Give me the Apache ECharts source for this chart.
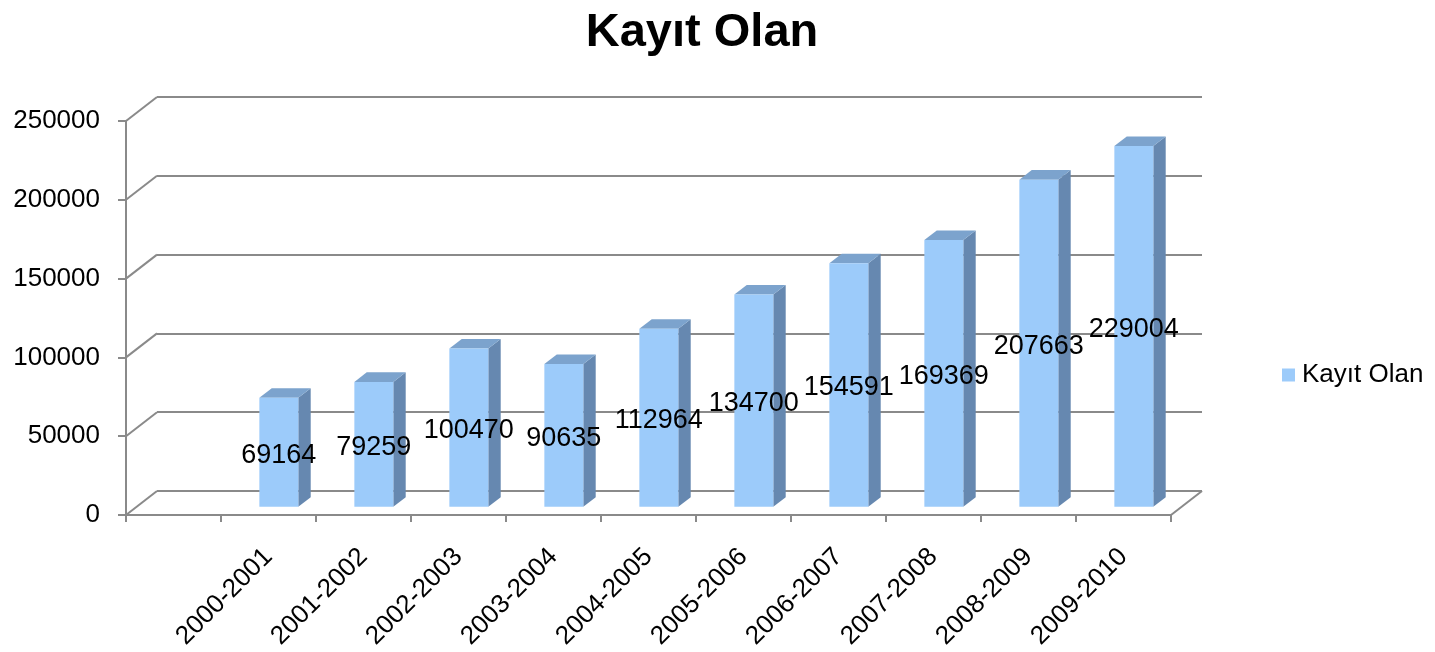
<!DOCTYPE html>
<html><head><meta charset="utf-8">
<script src="https://cdn.jsdelivr.net/npm/echarts@6/dist/echarts.min.js"></script>
<style>html,body{margin:0;padding:0;background:#fff}#c{width:1435px;height:652px}</style>
</head><body><div id="c"></div>
<script>
// ---- data ----
const chartTitle = 'Kayıt Olan';
const seriesName = 'Kayıt Olan';
const categories = ['2000-2001','2001-2002','2002-2003','2003-2004','2004-2005','2005-2006','2006-2007','2007-2008','2008-2009','2009-2010'];
const values = [69164, 79259, 100470, 90635, 112964, 134700, 154591, 169369, 207663, 229004];
const yTicks = [0, 50000, 100000, 150000, 200000, 250000];
const yMin = 0, yMax = 250000, yInterval = 50000;

// ---- style / layout ----
const FONT = "'Liberation Sans', Arial, sans-serif";
const GRID_COLOR = '#8a8a8a';
const FRONT = '#9ccbfa', SIDE = '#6688b0', TOP = '#7ca3cd';
const PLOT = { left: 126, top: 121, width: 1045, height: 394 };
const SLOTS = 11;                 // front axis slots (first slot empty, as in the original)
const DEPTH = [31, -24];          // oblique depth vector of floor/walls
const FRONT_DEPTH = 1 / 3, BAR_DEPTH = 0.4;
const slotW = PLOT.width / SLOTS;

function renderBar(params, api) {
  const i = api.value(0), v = api.value(1);
  const base = api.coord([i, 0]), top = api.coord([i, v]);
  const w = api.size([1, 0])[0] * 0.41;
  const fx = base[0] + DEPTH[0] * FRONT_DEPTH - w / 2;
  const fy0 = base[1] + DEPTH[1] * FRONT_DEPTH;
  const fy1 = top[1] + DEPTH[1] * FRONT_DEPTH;
  const dx = DEPTH[0] * BAR_DEPTH, dy = DEPTH[1] * BAR_DEPTH;
  return { type: 'group', children: [
    { type: 'polygon', shape: { points: [[fx + w, fy1], [fx + w + dx, fy1 + dy], [fx + w + dx, fy0 + dy], [fx + w, fy0]] }, style: { fill: SIDE } },
    { type: 'polygon', shape: { points: [[fx, fy1], [fx + dx, fy1 + dy], [fx + w + dx, fy1 + dy], [fx + w, fy1]] }, style: { fill: TOP } },
    { type: 'rect', shape: { x: fx, y: fy1, width: w, height: fy0 - fy1 }, style: { fill: FRONT } },
    { type: 'text', z2: 100, x: fx + w / 2, y: (fy0 + fy1) / 2 + 3,
      style: { text: String(v), fill: '#000', font: '27px ' + FONT, align: 'center', verticalAlign: 'middle', textAlign: 'center', textVerticalAlign: 'middle' } }
  ]};
}

function renderDiag(params, api) {
  const p = api.coord([api.value(0), api.value(1)]);
  return { type: 'line', shape: { x1: p[0], y1: p[1], x2: p[0] + DEPTH[0], y2: p[1] + DEPTH[1] },
           style: { stroke: GRID_COLOR, lineWidth: 2 } };
}

const chart = echarts.init(document.getElementById('c'), null, { renderer: 'canvas' });
chart.setOption({
  animation: false,
  backgroundColor: '#fff',
  textStyle: { fontFamily: FONT },
  title: { text: chartTitle, left: 697, textAlign: 'center', top: 5,
           textStyle: { fontSize: 47, fontWeight: 'bold', color: '#000', fontFamily: FONT } },
  legend: { data: [{ name: seriesName, icon: 'rect' }], left: 1282, top: 362, padding: 0, itemWidth: 13, itemHeight: 13,
            textStyle: { fontSize: 26, color: '#000', fontFamily: FONT, padding: [0, 0, 0, 2] } },
  grid: [
    { left: PLOT.left, top: PLOT.top, width: PLOT.width, height: PLOT.height },
    { left: PLOT.left + slotW, top: PLOT.top, width: PLOT.width - slotW, height: PLOT.height },
    { left: PLOT.left + DEPTH[0], top: PLOT.top + DEPTH[1], width: PLOT.width, height: PLOT.height }
  ],
  xAxis: [
    { gridIndex: 0, type: 'value', min: 0, max: SLOTS, interval: 1,
      axisLine: { show: true, lineStyle: { color: GRID_COLOR, width: 2 } },
      axisTick: { show: true, length: 7, lineStyle: { color: GRID_COLOR, width: 2 } },
      axisLabel: { show: false }, splitLine: { show: false } },
    { gridIndex: 1, type: 'category', data: categories,
      axisLine: { show: false }, axisTick: { show: false }, splitLine: { show: false },
      axisLabel: { interval: 0, rotate: 45, margin: 38, fontSize: 26, color: '#000', fontFamily: FONT } },
    { gridIndex: 2, type: 'value', min: 0, max: SLOTS, show: false }
  ],
  yAxis: [
    { gridIndex: 0, type: 'value', min: yMin, max: yMax, interval: yInterval,
      axisLine: { show: true, lineStyle: { color: GRID_COLOR, width: 2 } },
      axisTick: { show: true, length: 8, lineStyle: { color: GRID_COLOR, width: 2 } },
      axisLabel: { margin: 26, fontSize: 26, color: '#000', fontFamily: FONT, formatter: v => String(v) },
      splitLine: { show: false } },
    { gridIndex: 1, type: 'value', min: yMin, max: yMax, interval: yInterval, show: false },
    { gridIndex: 2, type: 'value', min: yMin, max: yMax, interval: yInterval,
      axisLine: { show: false }, axisTick: { show: false }, axisLabel: { show: false },
      splitLine: { show: true, lineStyle: { color: GRID_COLOR, width: 2 } } }
  ],
  series: [
    { type: 'custom', name: 'walls', xAxisIndex: 0, yAxisIndex: 0, silent: true, z: 1,
      data: yTicks.map(v => [0, v]).concat([[SLOTS, 0]]), renderItem: renderDiag },
    { type: 'custom', name: seriesName, xAxisIndex: 1, yAxisIndex: 1, z: 5,
      itemStyle: { color: FRONT },
      data: values.map((v, i) => [i, v]), renderItem: renderBar }
  ]
});
</script></body></html>
